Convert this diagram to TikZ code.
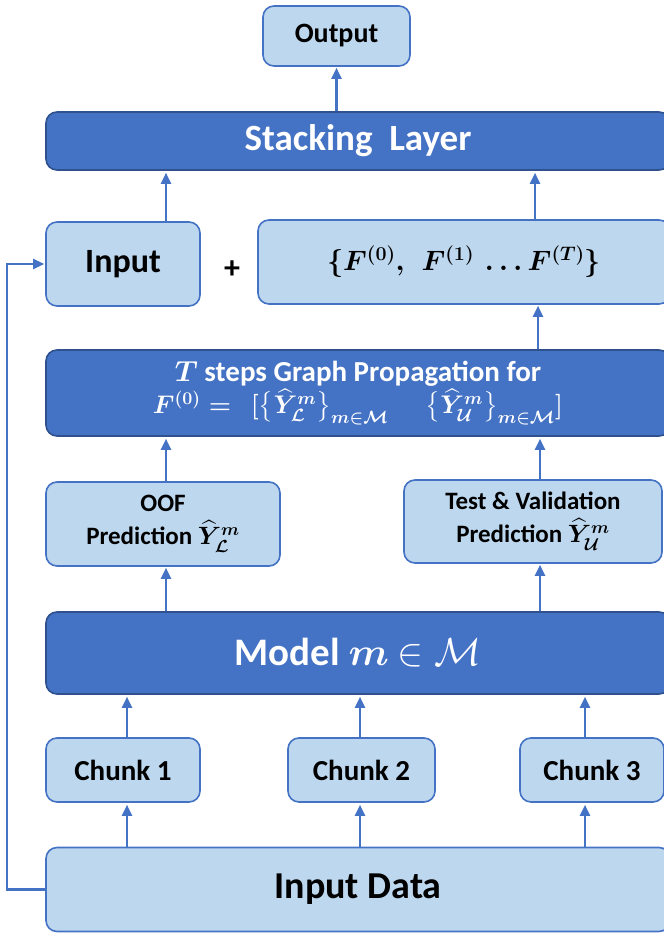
\RequirePackage{fix-cm}
\documentclass[tikz,border=0pt]{standalone}
\usepackage{amsmath,amssymb,bm}
\usepackage[no-math]{fontspec}
\setmainfont{Carlito}
\usetikzlibrary{arrows.meta}
\definecolor{lfill}{HTML}{BDD7EE}
\definecolor{mblue}{HTML}{4472C4}
\definecolor{dblue}{HTML}{2F528F}
\newcommand{\myFset}{{\boldmath$\{F^{(0)},\,\ F^{(1)}\,\ldots F^{(T)}\}$}}
\newcommand{\myGraph}{{\boldmath$T$} steps Graph Propagation for\\[1pt]
   {\fontsize{25.5}{30}\selectfont\boldmath$F^{(0)} =\ \ [\bigl\{\widehat{Y}^{m}_{\mathcal{L}}\bigr\}_{m\in\mathcal{M}}\quad\ \ \bigl\{\widehat{Y}^{m}_{\mathcal{U}}\bigr\}_{m\in\mathcal{M}}]$}}
\newcommand{\myOOF}{OOF\\ Prediction {\boldmath$\widehat{Y}^{m}_{\mathcal{L}}$}}
\newcommand{\myTest}{Test \& Validation\\ Prediction {\boldmath$\widehat{Y}^{m}_{\mathcal{U}}$}}
\newcommand{\myModel}{Model {\boldmath$m$} $\in\mathcal{M}$}
\begin{document}
\begin{tikzpicture}[x=1pt,y=-1pt,
  lbox/.style={draw=mblue, fill=lfill, line width=1.6pt, rounded corners=11pt, inner sep=0pt, align=center, font=\bfseries},
  dbox/.style={draw=dblue, fill=mblue, line width=1.6pt, rounded corners=11pt, inner sep=0pt, align=center, text=white, font=\bfseries},
  arr/.style={draw=mblue, line width=2.2pt, -{Triangle[width=10pt,length=11pt]}}]
\useasboundingbox (0,0) rectangle (663,933);

\node[lbox, minimum width=147pt, minimum height=60pt, font=\bfseries\fontsize{28}{30}\selectfont] (out) at (336.5,36) {Output};
\node[dbox, minimum width=624pt, minimum height=58pt, font=\bfseries\fontsize{37}{40}\selectfont] (stack) at (358,141) {Stacking~ Layer};
\node[lbox, minimum width=154pt, minimum height=84pt, font=\bfseries\fontsize{34}{36}\selectfont] (inp) at (123,264) {Input};
\node[font=\bfseries\fontsize{32}{36}\selectfont] (plus) at (232,270) {+};
\node[lbox, minimum width=412pt, minimum height=84pt, font=\bfseries\fontsize{28}{36}\selectfont] (fset) at (464,262) {\myFset};
\node[dbox, minimum width=624pt, minimum height=86pt, font=\bfseries\fontsize{29}{31}\selectfont] (graph) at (358,393) {\myGraph};
\node[lbox, minimum width=234pt, minimum height=84pt, font=\bfseries\fontsize{25}{33}\selectfont] (oof) at (163,524) {\myOOF};
\node[lbox, minimum width=258pt, minimum height=83pt, font=\bfseries\fontsize{25}{33}\selectfont] (test) at (533,521.5) {\myTest};
\node[dbox, minimum width=624pt, minimum height=82pt, font=\bfseries\fontsize{39}{40}\selectfont] (model) at (358,653) {\myModel};
\node[lbox, minimum width=154pt, minimum height=64pt, font=\bfseries\fontsize{29}{30}\selectfont] (c1) at (123,770) {Chunk 1};
\node[lbox, minimum width=147pt, minimum height=64pt, font=\bfseries\fontsize{29}{30}\selectfont] (c2) at (361.5,770) {Chunk 2};
\node[lbox, minimum width=144pt, minimum height=64pt, font=\bfseries\fontsize{29}{30}\selectfont] (c3) at (592,770) {Chunk 3};
\node[lbox, minimum width=624pt, minimum height=84pt, font=\bfseries\fontsize{38}{40}\selectfont] (data) at (358,889.5) {Input Data};

\coordinate (xa) at (166,0);
\coordinate (xb) at (535,0);
\coordinate (xc) at (538,0);
\coordinate (xd) at (540,0);
\coordinate (x1) at (127,0);
\coordinate (x2) at (360,0);
\coordinate (x3) at (585,0);

\draw[arr] (stack.north -| out.south) -- ([yshift=-1pt]out.south);
\draw[arr] (inp.north -| xa) -- ([yshift=-2pt]stack.south -| xa);
\draw[arr] (fset.north -| xb) -- ([yshift=-2pt]stack.south -| xb);
\draw[arr] (graph.north -| xc) -- ([yshift=-1pt]fset.south -| xc);
\draw[arr] (oof.north -| xa) -- ([yshift=-2pt]graph.south -| xa);
\draw[arr] (test.north -| xd) -- ([yshift=-2pt]graph.south -| xd);
\draw[arr] (model.north -| xa) -- ([yshift=-1pt]oof.south -| xa);
\draw[arr] (model.north -| xd) -- ([yshift=-1pt]test.south -| xd);
\foreach \c/\x in {c1/x1,c2/x2,c3/x3}{
  \draw[arr] (\c.north -| \x) -- ([yshift=-2pt]model.south -| \x);
  \draw[arr] (data.north -| \x) -- ([yshift=-2pt]\c.south -| \x);
}
\draw[arr] (data.west) -- ++(-38,0) |- ([xshift=-1pt]inp.west);
\end{tikzpicture}
\end{document}
